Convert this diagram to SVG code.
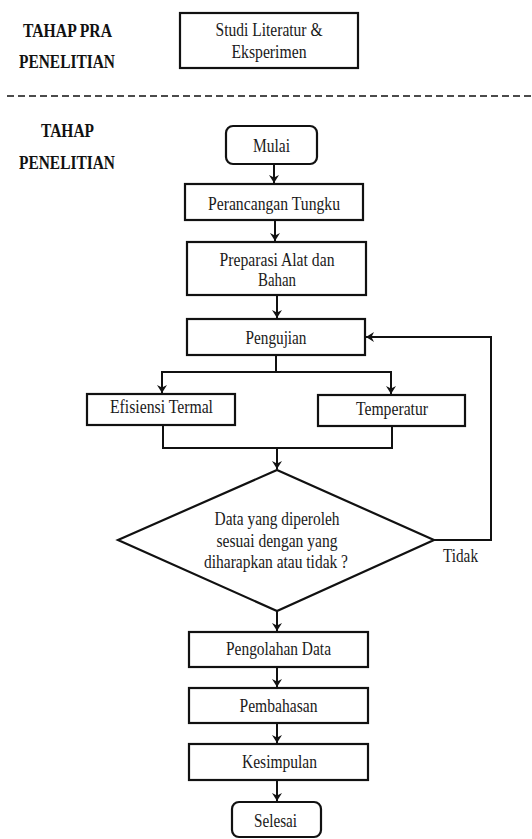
<svg xmlns="http://www.w3.org/2000/svg" width="532" height="839" viewBox="0 0 532 839">
<style>
.box{fill:#fff;stroke:#111;stroke-width:2.2}
.t{font-family:"Liberation Serif","Times New Roman",serif;font-size:19px;fill:#1a1a1a;text-anchor:middle}
.b{font-family:"Liberation Serif","Times New Roman",serif;font-size:19px;font-weight:bold;fill:#111;text-anchor:start}
.ln{fill:none;stroke:#111;stroke-width:2}
</style>
<defs>
<marker id="ah" markerWidth="8" markerHeight="10" refX="8" refY="5" orient="auto" markerUnits="userSpaceOnUse">
<path d="M0,0 L8,5 L0,10 L2.5,5 Z" fill="#111"/>
</marker>
</defs>
<rect width="532" height="839" fill="#fff"/>

<g id="labels">
<text class="b" x="23" y="37" textLength="89" lengthAdjust="spacingAndGlyphs">TAHAP PRA</text>
<text class="b" x="19" y="68" textLength="96" lengthAdjust="spacingAndGlyphs">PENELITIAN</text>
<text class="b" x="41" y="137" textLength="53" lengthAdjust="spacingAndGlyphs">TAHAP</text>
<text class="b" x="19" y="169" textLength="96" lengthAdjust="spacingAndGlyphs">PENELITIAN</text>
<line x1="7" y1="96" x2="532" y2="96" stroke="#111" stroke-width="1.6" stroke-dasharray="7,4"/>
</g>

<g id="studi">
<rect class="box" x="180" y="13" width="178" height="55"/>
<text class="t" x="269" y="36" textLength="107" lengthAdjust="spacingAndGlyphs">Studi Literatur &amp;</text>
<text class="t" x="269" y="58" textLength="75" lengthAdjust="spacingAndGlyphs">Eksperimen</text>
</g>

<g id="mulai">
<rect class="box" x="226" y="126" width="91" height="38" rx="7"/>
<text class="t" x="271.5" y="152" textLength="37" lengthAdjust="spacingAndGlyphs">Mulai</text>
</g>

<g id="perancangan">
<rect class="box" x="185" y="184" width="178" height="36"/>
<text class="t" x="274" y="210" textLength="132" lengthAdjust="spacingAndGlyphs">Perancangan Tungku</text>
</g>

<g id="preparasi">
<rect class="box" x="187" y="242" width="179" height="53"/>
<text class="t" x="277" y="266" textLength="115" lengthAdjust="spacingAndGlyphs">Preparasi Alat dan</text>
<text class="t" x="277" y="286" textLength="38" lengthAdjust="spacingAndGlyphs">Bahan</text>
</g>

<g id="pengujian">
<rect class="box" x="187" y="319" width="178" height="36"/>
<text class="t" x="276" y="344" textLength="61" lengthAdjust="spacingAndGlyphs">Pengujian</text>
</g>

<g id="efisiensi">
<rect class="box" x="87" y="394" width="148" height="31"/>
<text class="t" x="161.5" y="413" textLength="103" lengthAdjust="spacingAndGlyphs">Efisiensi Termal</text>
</g>

<g id="temperatur">
<rect class="box" x="318" y="395" width="147" height="31"/>
<text class="t" x="392" y="415" textLength="72" lengthAdjust="spacingAndGlyphs">Temperatur</text>
</g>

<g id="keputusan">
<polygon class="box" points="277,470 434,540 277,611 118,540"/>
<text class="t" x="277" y="525" textLength="125" lengthAdjust="spacingAndGlyphs">Data yang diperoleh</text>
<text class="t" x="277" y="547" textLength="121" lengthAdjust="spacingAndGlyphs">sesuai dengan yang</text>
<text class="t" x="276" y="568" textLength="144" lengthAdjust="spacingAndGlyphs">diharapkan atau tidak ?</text>
</g>

<g id="pengolahan">
<rect class="box" x="189" y="632" width="179" height="35"/>
<text class="t" x="278.5" y="655" textLength="105" lengthAdjust="spacingAndGlyphs">Pengolahan Data</text>
</g>

<g id="pembahasan">
<rect class="box" x="189" y="688" width="179" height="35"/>
<text class="t" x="278.5" y="712" textLength="78" lengthAdjust="spacingAndGlyphs">Pembahasan</text>
</g>

<g id="kesimpulan">
<rect class="box" x="189" y="744" width="179" height="36"/>
<text class="t" x="279.5" y="768" textLength="75" lengthAdjust="spacingAndGlyphs">Kesimpulan</text>
</g>

<g id="selesai">
<rect class="box" x="232" y="802" width="89" height="35" rx="7"/>
<text class="t" x="275.5" y="827" textLength="43" lengthAdjust="spacingAndGlyphs">Selesai</text>
</g>

<g id="connectors">
<line class="ln" x1="274" y1="164" x2="274" y2="183" marker-end="url(#ah)"/>
<line class="ln" x1="275" y1="220" x2="275" y2="241" marker-end="url(#ah)"/>
<line class="ln" x1="277" y1="295" x2="277" y2="318" marker-end="url(#ah)"/>
<polyline class="ln" points="276,355 276,372"/>
<polyline class="ln" points="276,372 162,372 162,393" marker-end="url(#ah)"/>
<polyline class="ln" points="276,372 391,372 391,394" marker-end="url(#ah)"/>
<polyline class="ln" points="163,425 163,448 392,448 392,426"/>
<line class="ln" x1="277" y1="448" x2="277" y2="469" marker-end="url(#ah)"/>
<polyline class="ln" points="434,540 491,540 491,337 366,337" marker-end="url(#ah)"/>
<text class="t" x="460.5" y="562" textLength="35" lengthAdjust="spacingAndGlyphs">Tidak</text>
<line class="ln" x1="277" y1="611" x2="277" y2="631" marker-end="url(#ah)"/>
<line class="ln" x1="277" y1="667" x2="277" y2="687" marker-end="url(#ah)"/>
<line class="ln" x1="277" y1="723" x2="277" y2="743" marker-end="url(#ah)"/>
<line class="ln" x1="277" y1="780" x2="277" y2="801" marker-end="url(#ah)"/>
</g>
</svg>
